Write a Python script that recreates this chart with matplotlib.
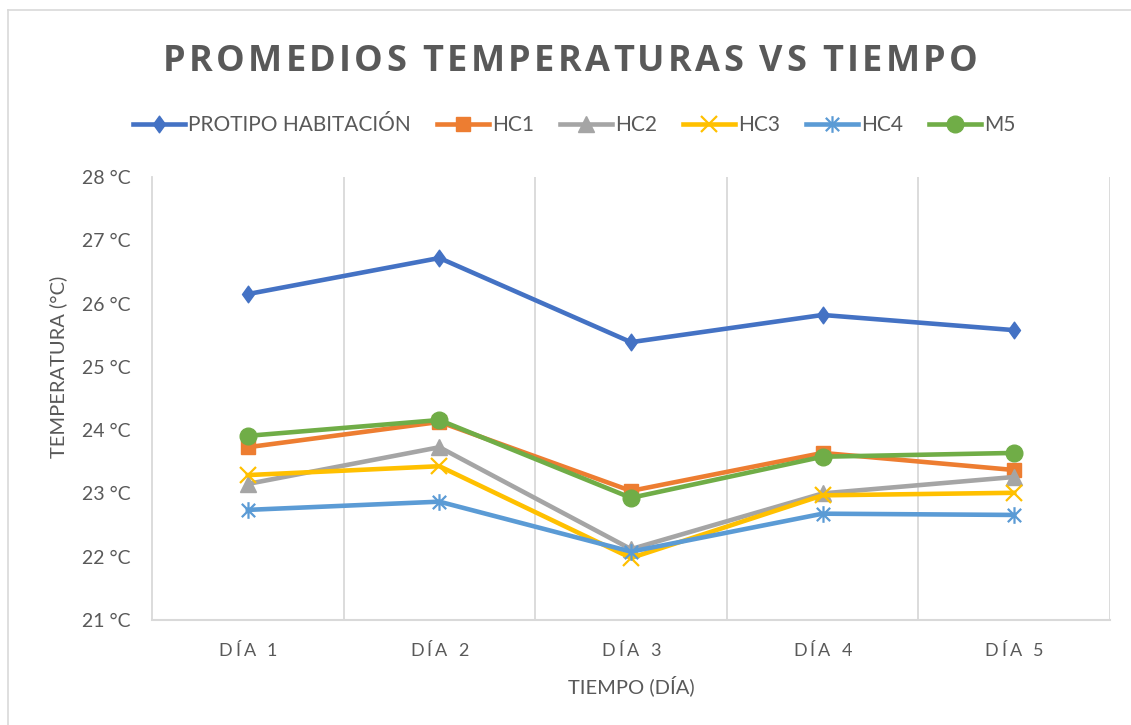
import matplotlib
matplotlib.use('Agg')
import matplotlib.pyplot as plt
from matplotlib.path import Path
from matplotlib.lines import Line2D
from matplotlib.font_manager import FontProperties, findfont
from matplotlib.ft2font import FT2Font

# datos
dias = ['DÍA 1', 'DÍA 2', 'DÍA 3', 'DÍA 4', 'DÍA 5']
protipo = [26.15, 26.72, 25.39, 25.82, 25.58]
hc1 = [23.73, 24.13, 23.04, 23.64, 23.37]
hc2 = [23.15, 23.73, 22.12, 23.00, 23.26]
hc3 = [23.29, 23.43, 21.98, 22.97, 23.01]
hc4 = [22.74, 22.87, 22.08, 22.68, 22.66]
m5 = [23.91, 24.16, 22.93, 23.58, 23.64]
nombres = ['PROTIPO HABITACIÓN', 'HC1', 'HC2', 'HC3', 'HC4', 'M5']
y_ticks = [21, 22, 23, 24, 25, 26, 27, 28]

W, H = 1131, 725
TXT = '#595959'
GRID = '#D9D9D9'
BODY = 'Lato'

diamante = Path([(0, 1), (0.72, 0), (0, -1), (-0.72, 0), (0, 1)],
                [Path.MOVETO, Path.LINETO, Path.LINETO, Path.LINETO, Path.CLOSEPOLY])
estrella = Path([(-1, -1), (1, 1), (-1, 1), (1, -1), (0, -1.25), (0, 1.25)],
                [Path.MOVETO, Path.LINETO, Path.MOVETO, Path.LINETO, Path.MOVETO, Path.LINETO])

estilos = [
    dict(color='#4472C4', marker=diamante, ms=12),
    dict(color='#ED7D31', marker='s', ms=10),
    dict(color='#A5A5A5', marker='^', ms=11),
    dict(color='#FFC000', marker='x', ms=11, mew=1.6),
    dict(color='#5B9BD5', marker=estrella, ms=12, mew=1.6),
    dict(color='#70AD47', marker='o', ms=12),
]


def texto_espaciado(fig, xc, y_base, s, size, ancho, family, weight='normal'):
    # texto con espaciado entre letras, centrado en xc (pixeles)
    fp = FontProperties(family=family, weight=weight)
    font = FT2Font(findfont(fp))
    font.set_size(size, 100)
    adv = [font.load_char(ord(c)).linearHoriAdvance / 65536 for c in s]
    tr = (ancho - sum(adv)) / (len(s) - 1)
    x = xc - ancho / 2
    for c, a in zip(s, adv):
        if c != ' ':
            fig.text(x / W, 1 - y_base / H, c, ha='left', va='baseline',
                     fontproperties=fp, size=size, color=TXT)
        x += a + tr


fig = plt.figure(figsize=(W / 100, H / 100), dpi=100)
ax = fig.add_axes([152 / W, 1 - 620 / H, (1110 - 152) / W, (620 - 177) / H])

x = list(range(len(dias)))
series = [protipo, hc1, hc2, hc3, hc4, m5]
for nombre, vals, est in zip(nombres, series, estilos):
    ax.plot(x, vals, lw=3.3, label=nombre, **est)

ax.set_xlim(-0.5, len(dias) - 0.5)
ax.set_ylim(21, 28)
ax.set_yticks(y_ticks)
ax.set_yticklabels([f'{v} °C' for v in y_ticks], family=BODY, size=14, color=TXT)
ax.tick_params(axis='y', length=0, pad=15.5)
ax.set_xticks(x)
ax.set_xticklabels([''] * len(dias))
ax.tick_params(axis='x', length=0)
ax.set_xticks([i + 0.5 for i in x], minor=True)
ax.tick_params(axis='x', which='minor', length=0)
ax.grid(which='minor', axis='x', color=GRID, lw=1.3)
for s in ['top', 'right']:
    ax.spines[s].set_visible(False)
ax.spines['left'].set_color(GRID)
ax.spines['left'].set_linewidth(1.3)
ax.spines['bottom'].set_color(GRID)
ax.spines['bottom'].set_linewidth(1.5)

# etiquetas de dias con espaciado
fig.canvas.draw()
for i, d in enumerate(dias):
    xp = ax.transData.transform((i, 21))[0]
    texto_espaciado(fig, xp, 656, d, 13, 59, BODY)

texto_espaciado(fig, 570, 71, 'PROMEDIOS TEMPERATURAS VS TIEMPO', 26, 815,
                'Open Sans', 'bold')

fig.text(631 / W, 1 - 686 / H, 'TIEMPO (DÍA)', ha='center', va='center',
         family=BODY, size=14.5, color=TXT)
fig.text(58 / W, 1 - 367 / H, 'TEMPERATURA (°C)', ha='center', va='center',
         rotation=90, family=BODY, size=14.5, color=TXT)

fs = 15 * 100 / 72
leg = ax.legend(loc='center', bbox_to_anchor=(574 / W, 1 - 125 / H),
                bbox_transform=fig.transFigure, ncol=6, frameon=False,
                handlelength=52 / fs, handletextpad=3 / fs, columnspacing=26 / fs,
                borderpad=0, prop=FontProperties(family=BODY, size=15))
for t in leg.get_texts():
    t.set_color(TXT)

# borde del area del grafico
fig.add_artist(Line2D([8 / W, 1], [1 - 10 / H, 1 - 10 / H], color=GRID, lw=1.2))
fig.add_artist(Line2D([8 / W, 8 / W], [0, 1 - 10 / H], color=GRID, lw=1.2))

fig.savefig('out.png', dpi=100)
